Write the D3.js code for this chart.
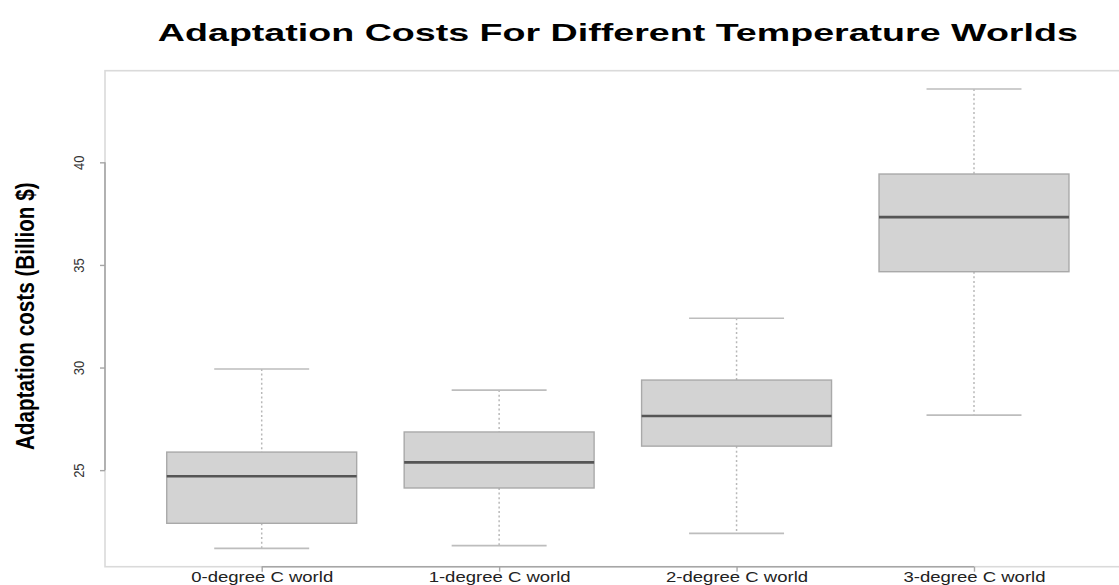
<!DOCTYPE html>
<html>
<head>
<meta charset="utf-8">
<script src="https://cdn.jsdelivr.net/npm/d3@7"></script>
<style>
	body { margin: 0; background: #fff; }
	#chart-area { width: 1119px; height: 585px; overflow: hidden; }
	text { font-family: "Liberation Sans", Arial, sans-serif; }
</style>
</head>
<body>
<div id="chart-area"></div>
<script>

// box plot summary stats
let categories = ["0-degree C world", "1-degree C world", "2-degree C world", "3-degree C world"];
let whiskerLow = [21.19, 21.32, 21.92, 27.68];
let lowerQuartile = [22.41, 24.13, 26.17, 34.67];
let medians = [24.70, 25.38, 27.64, 37.33];
let upperQuartile = [25.88, 26.86, 29.39, 39.43];
let whiskerHigh = [29.93, 28.90, 32.40, 43.57];
let yTicks = [25, 30, 35, 40];

let chartTitle = "Adaptation Costs For Different Temperature Worlds";
let yTitle = "Adaptation costs (Billion $)";


class BoxPlot {

	constructor(parentElement) {
		this.parentElement = parentElement;
		this.initVis();
	}

	initVis() {
		let vis = this;

		// plot region (right edge runs off the picture like the original)
		vis.margin = {top: 70.7, left: 105, bottom: 566.7, right: 1130.7};

		vis.svg = d3.select("#" + vis.parentElement).append("svg")
			.attr("width", 1119)
			.attr("height", 585);

		// R style: pad the ranges by 4%
		let lo = d3.min(whiskerLow), hi = d3.max(whiskerHigh);
		let pad = (hi - lo) * 0.04;

		vis.x = d3.scaleLinear()
			.domain([0.5 - 0.16, categories.length + 0.5 + 0.16])
			.range([vis.margin.left, vis.margin.right]);

		vis.y = d3.scaleLinear()
			.domain([lo - pad, hi + pad])
			.range([vis.margin.bottom, vis.margin.top]);

		vis.wrangleData();
	}

	wrangleData() {
		let vis = this;

		vis.displayData = categories.map((c, i) => ({
			key: c,
			pos: i + 1,
			lo: whiskerLow[i],
			q1: lowerQuartile[i],
			med: medians[i],
			q3: upperQuartile[i],
			hi: whiskerHigh[i]
		}));

		vis.updateVis();
	}

	updateVis() {
		let vis = this;
		let half = 0.4, capHalf = 0.2;

		// frame
		vis.svg.append("rect")
			.attr("x", vis.margin.left)
			.attr("y", vis.margin.top)
			.attr("width", vis.margin.right - vis.margin.left)
			.attr("height", vis.margin.bottom - vis.margin.top)
			.attr("fill", "none")
			.attr("stroke", "#dadada")
			.attr("stroke-width", 1.6);

		let boxes = vis.svg.selectAll(".box").data(vis.displayData, d => d.key)
			.enter().append("g")
			.attr("class", "box");

		// whiskers (dotted)
		boxes.append("line")
			.attr("x1", d => vis.x(d.pos))
			.attr("x2", d => vis.x(d.pos))
			.attr("y1", d => vis.y(d.hi))
			.attr("y2", d => vis.y(d.q3))
			.attr("stroke", "#b8b8b8")
			.attr("stroke-width", 1.5)
			.attr("stroke-dasharray", "2,2.6");

		boxes.append("line")
			.attr("x1", d => vis.x(d.pos))
			.attr("x2", d => vis.x(d.pos))
			.attr("y1", d => vis.y(d.q1))
			.attr("y2", d => vis.y(d.lo))
			.attr("stroke", "#b8b8b8")
			.attr("stroke-width", 1.5)
			.attr("stroke-dasharray", "2,2.6");

		// caps
		["lo", "hi"].forEach(k => {
			boxes.append("line")
				.attr("x1", d => vis.x(d.pos - capHalf))
				.attr("x2", d => vis.x(d.pos + capHalf))
				.attr("y1", d => vis.y(d[k]))
				.attr("y2", d => vis.y(d[k]))
				.attr("stroke", "#bdbdbd")
				.attr("stroke-width", 1.6);
		});

		// box
		boxes.append("rect")
			.attr("x", d => vis.x(d.pos - half))
			.attr("y", d => vis.y(d.q3))
			.attr("width", d => vis.x(d.pos + half) - vis.x(d.pos - half))
			.attr("height", d => vis.y(d.q1) - vis.y(d.q3))
			.attr("fill", "#d3d3d3")
			.attr("stroke", "#a9a9a9")
			.attr("stroke-width", 1.4);

		// median
		boxes.append("line")
			.attr("x1", d => vis.x(d.pos - half))
			.attr("x2", d => vis.x(d.pos + half))
			.attr("y1", d => vis.y(d.med))
			.attr("y2", d => vis.y(d.med))
			.attr("stroke", "#555")
			.attr("stroke-width", 2.6);

		// y axis
		vis.yAxis = d3.axisLeft(vis.y)
			.tickValues(yTicks)
			.tickSize(5)
			.tickFormat(d3.format("d"));

		let yg = vis.svg.append("g")
			.attr("class", "y-axis axis")
			.attr("transform", "translate(" + vis.margin.left + ",0)")
			.call(vis.yAxis);
		yg.select(".domain").remove();
		yg.append("line")
			.attr("y1", vis.y(d3.min(yTicks)))
			.attr("y2", vis.y(d3.max(yTicks)))
			.attr("stroke", "#a6a6a6")
			.attr("stroke-width", 1.6);
		yg.selectAll(".tick line").attr("stroke", "#a6a6a6").attr("stroke-width", 1.4);
		yg.selectAll(".tick text")
			.attr("x", 0)
			.attr("dy", 0)
			.attr("transform", "translate(-21,0) scale(1.1,1) rotate(-90)")
			.attr("text-anchor", "middle")
			.attr("font-size", 13)
			.attr("fill", "#333");

		// x axis
		vis.xAxis = d3.axisBottom(vis.x)
			.tickValues(vis.displayData.map(d => d.pos))
			.tickSize(5)
			.tickFormat(d => categories[d - 1]);

		let xg = vis.svg.append("g")
			.attr("class", "x-axis axis")
			.attr("transform", "translate(0," + vis.margin.bottom + ")")
			.call(vis.xAxis);
		xg.select(".domain").remove();
		xg.append("line")
			.attr("x1", vis.x(1))
			.attr("x2", vis.x(categories.length))
			.attr("stroke", "#a6a6a6")
			.attr("stroke-width", 1.6);
		xg.selectAll(".tick line").attr("stroke", "#a6a6a6").attr("stroke-width", 1.4);
		xg.selectAll(".tick text")
			.attr("y", 15.8)
			.attr("dy", 0)
			.attr("font-size", 14)
			.attr("fill", "#222")
			.attr("textLength", 142)
			.attr("lengthAdjust", "spacingAndGlyphs");

		// titles
		vis.svg.append("text")
			.attr("class", "chart-title")
			.attr("x", (vis.margin.left + vis.margin.right) / 2)
			.attr("y", 41)
			.attr("text-anchor", "middle")
			.attr("font-size", 24.5)
			.attr("font-weight", "bold")
			.attr("textLength", 920)
			.attr("lengthAdjust", "spacingAndGlyphs")
			.text(chartTitle);

		vis.svg.append("text")
			.attr("class", "y-title")
			.attr("transform", "translate(34," + vis.y(32.5) + ") scale(1.24,1) rotate(-90)")
			.attr("text-anchor", "middle")
			.attr("font-size", 20.7)
			.attr("font-weight", "bold")
			.text(yTitle);
	}
}

let boxPlot = new BoxPlot("chart-area");

</script>
</body>
</html>
